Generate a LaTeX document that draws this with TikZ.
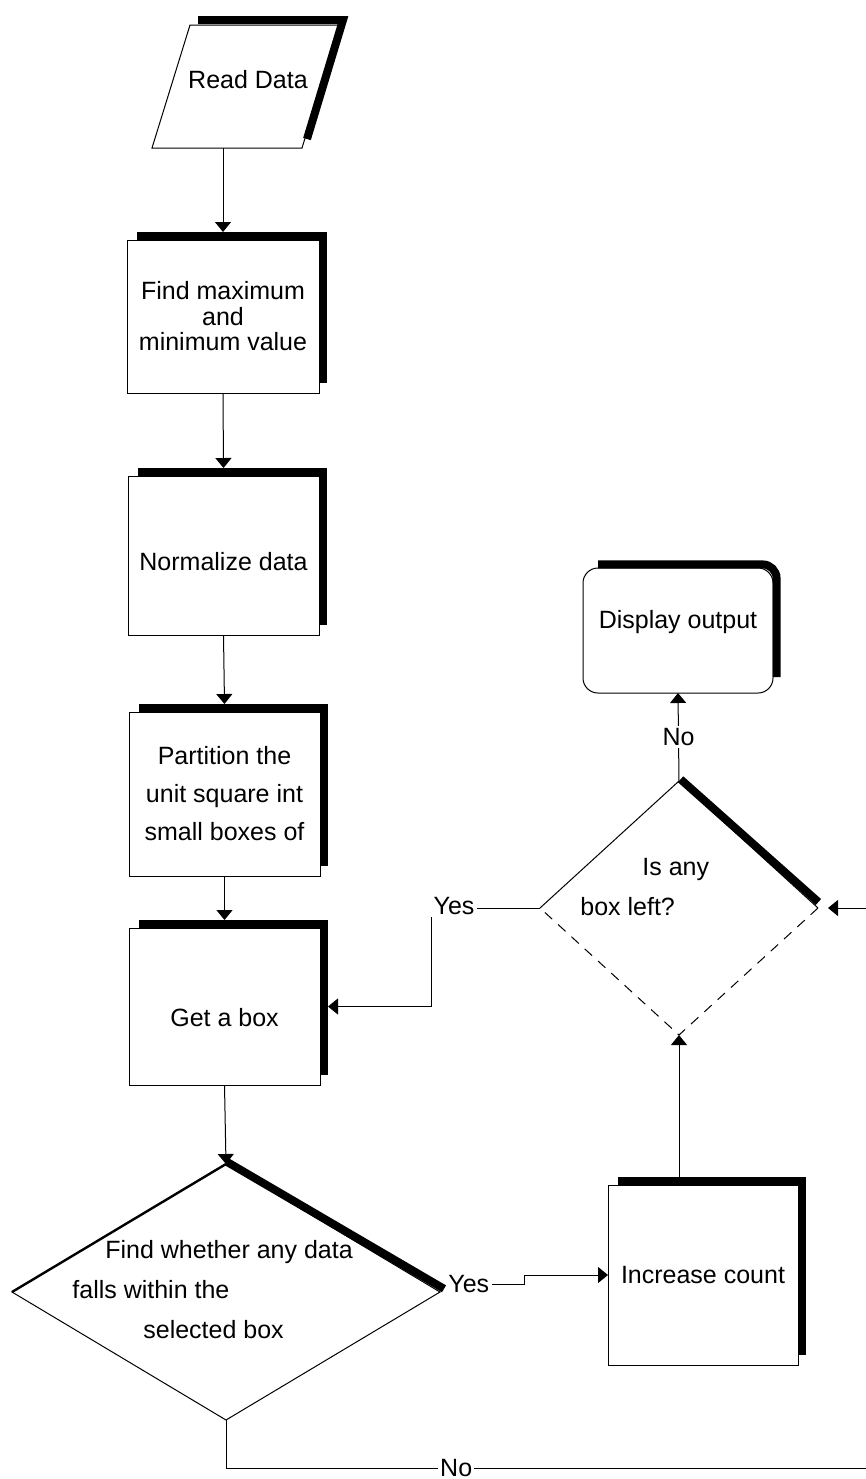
\documentclass[tikz,border=0pt]{standalone}
\usepackage{fontspec}
\setmainfont{Liberation Sans}
\usetikzlibrary{arrows.meta}
\usetikzlibrary{shapes.geometric}

\begin{document}
\begin{tikzpicture}[x=0.5pt,y=-0.5pt,
    every node/.style={font=\fontsize{12.5}{20}\selectfont},
    thinline/.style={line width=0.5pt},
    shadowbar/.style={line width=4pt, line join=miter},
    procbox/.style={draw, thinline, rectangle, inner sep=1pt, outer sep=0pt},
    decision/.style={diamond, inner sep=0pt, outer sep=0pt},
    flow/.style={thinline, -{Triangle[length=5pt,width=8pt]}},
    tag/.style={inner sep=1pt, fill=white}]
    \useasboundingbox (0,0) rectangle (866,1479);
    \clip (0,0) rectangle (866,1479);

    % Read Data
    \draw[thinline] (190,25) -- (340,25) -- (302,148) -- (152,148) -- cycle;
    \draw[shadowbar] (198,20) -- (343,20) -- (307,139);
    \node[minimum height=68pt] (read) at (248,80) {Read Data};

    % Boxes on the left
    \node[procbox, minimum width=96pt, minimum height=76.5pt, align=center,
          font=\fontsize{12.5}{12.75}\selectfont] (findmax) at (223,316.5) {Find maximum\\and\\minimum value};
    \node[procbox, minimum width=95.5pt, minimum height=79.5pt,
          text height=15pt, text depth=0pt] (normalize) at (223.5,555.5) {Normalize data};
    \node[procbox, minimum width=95.5pt, minimum height=82pt, align=center,
          font=\fontsize{12.5}{19}\selectfont] (partition) at (224.5,794) {Partition the\\unit square int\\small boxes of};
    \node[procbox, minimum width=95.5pt, minimum height=78.5pt,
          text height=20pt, text depth=0pt] (getbox) at (224.5,1006.5) {Get a box};

    % Boxes on the right
    \node[procbox, minimum width=95pt, minimum height=90pt] (increase) at (703,1275) {Increase count};
    \node[procbox, rounded corners=7.5pt, minimum width=95pt, minimum height=62.5pt,
          text depth=11pt] (display) at (678,630.5) {Display output};

    % Decisions
    \node[decision, draw, thinline, minimum width=214pt, minimum height=128pt] (fw) at (226,1292) {};
    \node[anchor=west, align=left, inner sep=0pt] (fwtext) at (72,1290)
        {\hspace*{16.5pt}Find whether any data\\falls within the\\\hspace*{35.5pt}selected box};
    \draw[line width=1.2pt] (fw.west) -- (fw.north);
    \draw[shadowbar] ([xshift=0.6pt,yshift=1pt]fw.north) -- ([xshift=2pt,yshift=1.6pt]fw.east);

    \node[decision, minimum width=139pt, minimum height=127pt] (isany) at (679,908) {};
    \node[anchor=west, align=left, inner sep=0pt] (isanytext) at (580,887)
        {\hspace*{31pt}Is any\\box left?};
    \draw[thinline] (isany.west) -- (isany.north) -- (isany.east);
    \draw[thinline, dash pattern=on 5pt off 4pt] (isany.east) -- (isany.south) -- (isany.west);
    \draw[shadowbar] ([xshift=0.8pt,yshift=0.85pt]isany.north) -- ([xshift=0.2pt,yshift=3pt]isany.east);

    % Shadows
    \foreach \b in {findmax,normalize,partition,getbox,increase}
        \draw[shadowbar] ([xshift=5pt,yshift=2pt]\b.north west) -- ([xshift=2pt,yshift=2pt]\b.north east)
            -- ([xshift=2pt,yshift=5pt]\b.south east);
    \draw[shadowbar, rounded corners=7pt] ([xshift=7.5pt,yshift=1.8pt]display.north west)
        -- ([xshift=1.8pt,yshift=1.8pt]display.north east) -- ([xshift=1.8pt,yshift=8pt]display.south east);

    % Arrows
    \draw[flow] (findmax.north |- read.south) -- ([yshift=4pt]findmax.north);
    \draw[flow] (findmax.south) -- ([yshift=4pt]normalize.north);
    \draw[flow] (normalize.south) -- ([yshift=4pt]partition.north);
    \draw[flow] (partition.south) -- ([yshift=4pt]getbox.north);
    \draw[flow] (getbox.south) -- (fw.north);

    % Yes / No branches
    \node[tag, anchor=west] (yes2) at (446,1284) {Yes};
    \draw[flow] (yes2.east) -- ++(33,0) |- (increase.west);
    \draw[flow] (isany.south |- increase.north) -- (isany.south);

    \node[tag] (yes1) at (454,906) {Yes};
    \draw[thinline] (isany.west) -- (isany.west -| yes1.east);
    \draw[flow] (yes1.south west) |- ([xshift=4pt]getbox.east);

    \draw[flow] (isany.north) -- node[tag] (no1) {No} (display.south);

    \coordinate (loopcorner) at (880,1468);
    \draw[flow] (fw.south) |- node[tag, pos=0.676] (no2) {No} (loopcorner)
        |- ([xshift=5pt]isany.east);
\end{tikzpicture}
\end{document}
